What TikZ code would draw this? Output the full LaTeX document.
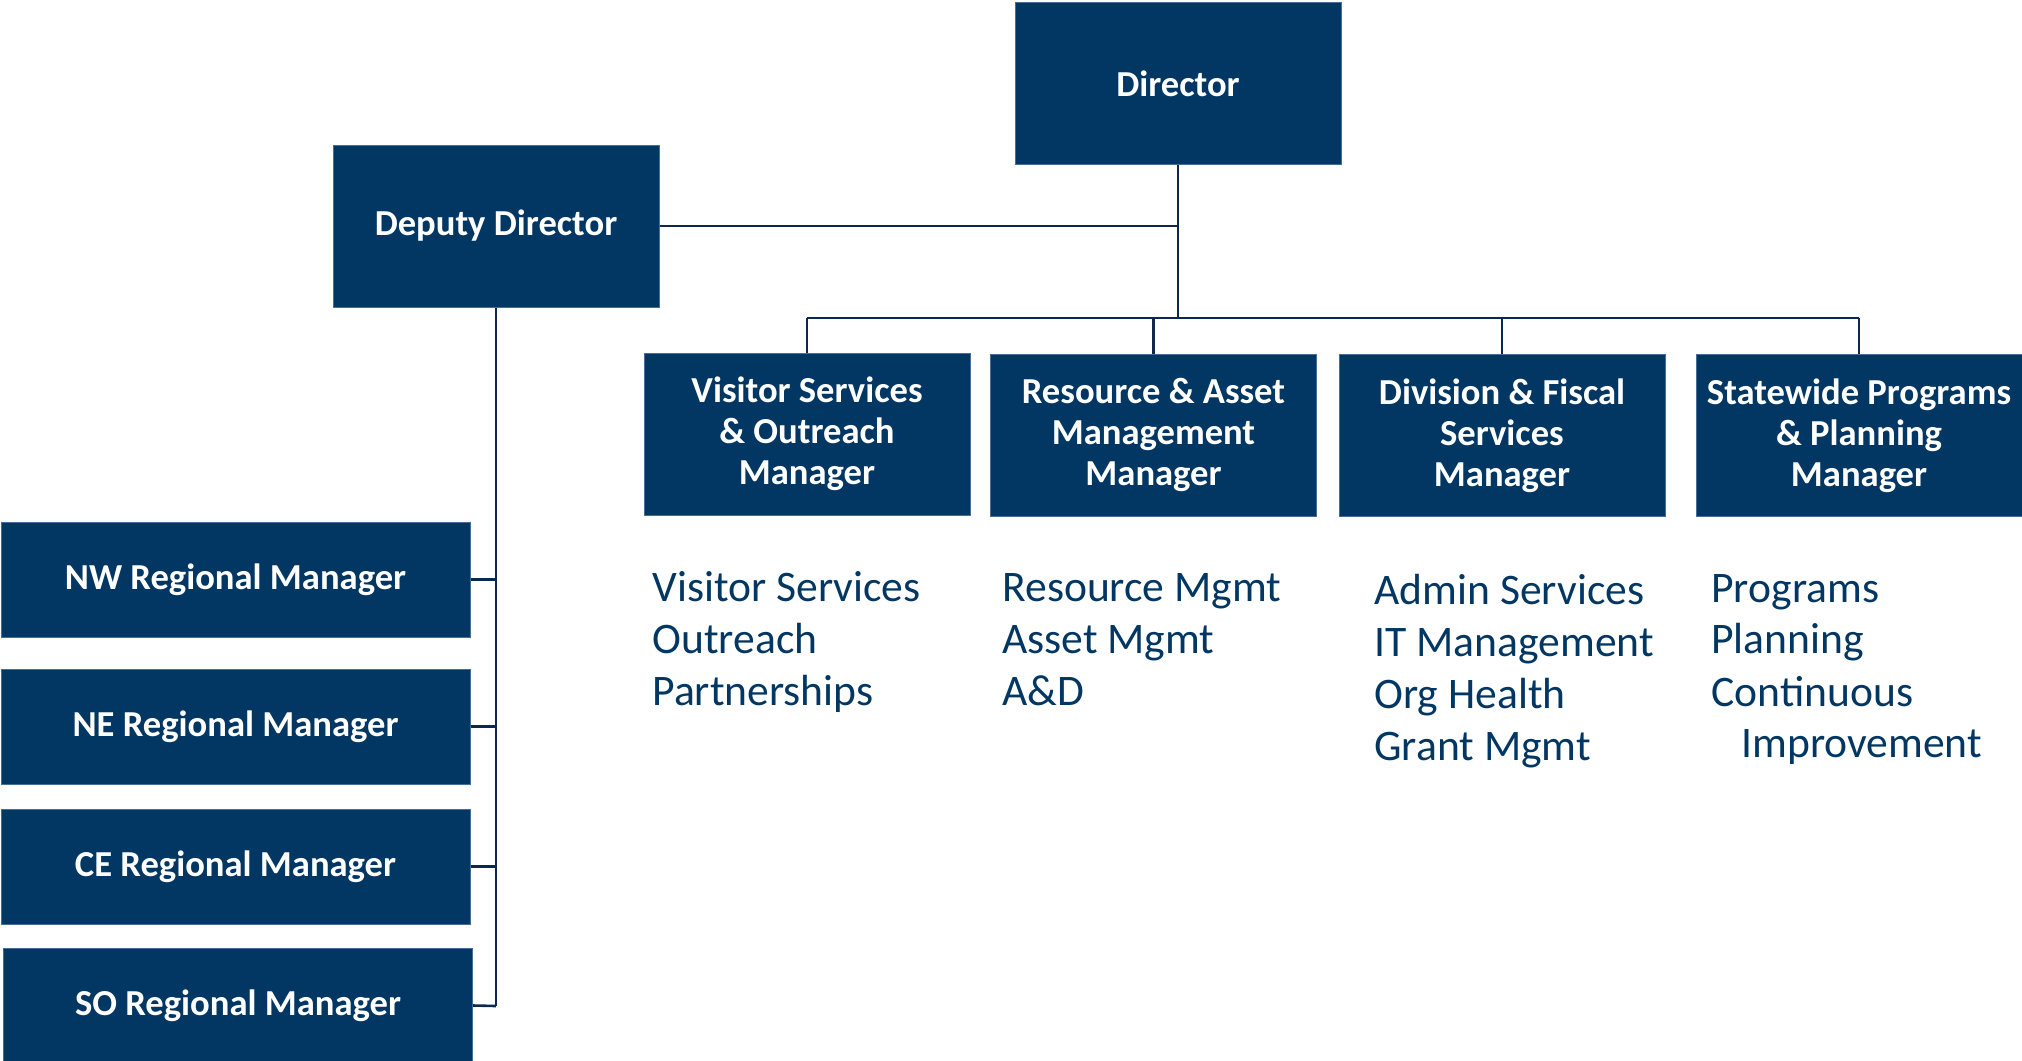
\documentclass[tikz,border=0pt]{standalone}
\usepackage{fontspec}
\setmainfont{Carlito}
\definecolor{navy}{RGB}{3,55,99}
\definecolor{edge}{RGB}{70,110,150}
\definecolor{linec}{RGB}{12,40,78}
\tikzset{
  box/.style={fill=navy, draw=edge, line width=0.5pt, text=white, align=center,
    inner sep=0pt, font=\bfseries\fontsize{18.3}{20.6}\selectfont},
  mbox/.style={box, minimum width=163pt, minimum height=81pt},
  rbox/.style={box, minimum width=234.5pt, minimum height=57.5pt},
  conn/.style={draw=linec, line width=1.3pt},
  item/.style={anchor=base west, inner sep=0pt, text=navy, font=\fontsize{21.8}{26}\selectfont}
}
\begin{document}
\begin{tikzpicture}[x=0.5pt, y=-0.5pt]
\useasboundingbox (0,0) rectangle (2022,1060);
% top
\node[mbox] (dir) at (1178,83.5) {Director};
\node[mbox] (dep) at (496,226) {Deputy Director};
% managers
\node[mbox] (vs) at (807,434) {Visitor Services\\ \& Outreach\\ Manager};
\node[mbox] (ra) at (1153.5,435) {Resource \& Asset\\ Management\\ Manager};
\node[mbox] (df) at (1502,435.5) {Division \& Fiscal\\ Services\\ Manager};
\node[mbox] (sp) at (1859,435.5) {Statewide Programs\\ \& Planning\\ Manager};
% regional
\node[rbox] (nw) at (235.5,579.5) {NW Regional Manager};
\node[rbox] (ne) at (235.5,726.5) {NE Regional Manager};
\node[rbox] (ce) at (235.5,866.5) {CE Regional Manager};
\node[rbox] (so) at (238,1005.5) {SO Regional Manager};
% connector points
\coordinate (bj) at (1178,318);
\coordinate (dj) at (1178,226);
\coordinate (bl) at (807,318);
\coordinate (br) at (1859,318);
\coordinate (vb) at (496,1006);
\draw[conn] (dir.south) -- (bj);
\draw[conn] (dep.east) -- (dj);
\draw[conn] (bl) -- (br);
\draw[conn] (bl) -- (vs.north);
\draw[conn] (ra.north |- bj) -- (ra.north);
\draw[conn] (df.north |- bj) -- (df.north);
\draw[conn] (br) -- (sp.north);
\draw[conn] (dep.south) -- (vb);
\draw[conn] (nw.east) -- (nw.east -| vb);
\draw[conn] (ne.east) -- (ne.east -| vb);
\draw[conn] (ce.east) -- (ce.east -| vb);
\draw[conn] (so.east) -- (vb);
% lists
\node[item] (vs1) at (652,601.8) {Visitor Services};
\node[item] (vs2) at (652,653.5) {Outreach};
\node[item] (vs3) at (652,705) {Partnerships};
\node[item] (ra1) at (1002,601.8) {Resource Mgmt};
\node[item] (ra2) at (1002,653.5) {Asset Mgmt};
\node[item] (ra3) at (1002,705) {A\&D};
\node[item] (df1) at (1374,604) {Admin Services};
\node[item] (df2) at (1374,656) {IT Management};
\node[item] (df3) at (1374,708) {Org Health};
\node[item] (df4) at (1374,760.6) {Grant Mgmt};
\node[item] (sp1) at (1711,602) {Programs};
\node[item] (sp2) at (1711,653.5) {Planning};
\node[item] (sp3) at (1711,706) {Continuous};
\node[item] (sp4) at (1741,757.8) {Improvement};
\end{tikzpicture}
\end{document}
